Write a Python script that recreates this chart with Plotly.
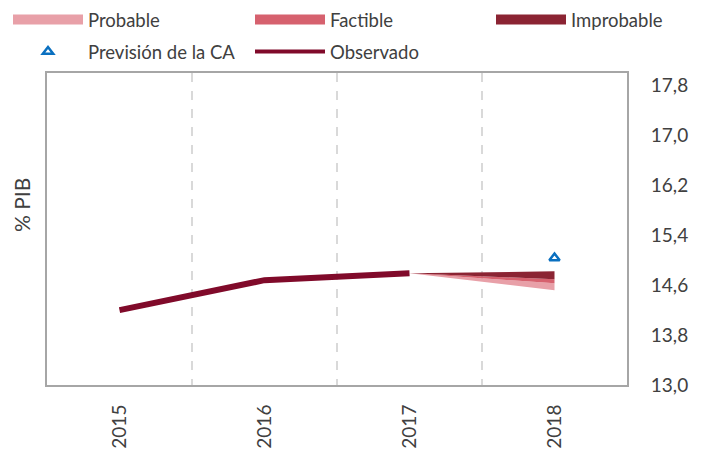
import plotly.graph_objects as go

years = [2015, 2016, 2017, 2018]
obs_years = [2015, 2016, 2017]
observado = [14.20, 14.68, 14.79]
fan_years = [2017, 2018]
fan_lower = [14.79, 14.52]
probable_top = [14.79, 14.63]
factible_top = [14.79, 14.694]
improbable_top = [14.79, 14.822]
prevision_year = [2018]
prevision = [15.035]
y_ticks = [13.0, 13.8, 14.6, 15.4, 16.2, 17.0, 17.8]

c_prob = "#E8A0A8"
c_fact = "#D6616E"
c_impr = "#8B2433"
c_obs = "#800A2A"
c_prev = "#0A70C0"
txt = "#404040"
font = "Lato"

fig = go.Figure()
# fan bands
fig.add_trace(go.Scatter(x=fan_years, y=fan_lower, mode="lines", line=dict(width=0, color=c_prob),
                         showlegend=False, hoverinfo="skip"))
fig.add_trace(go.Scatter(x=fan_years, y=probable_top, mode="lines", line=dict(width=0, color=c_prob),
                         fill="tonexty", fillcolor=c_prob, showlegend=False))
fig.add_trace(go.Scatter(x=fan_years, y=factible_top, mode="lines", line=dict(width=0, color=c_fact),
                         fill="tonexty", fillcolor=c_fact, showlegend=False))
fig.add_trace(go.Scatter(x=fan_years, y=improbable_top, mode="lines", line=dict(width=0, color=c_impr),
                         fill="tonexty", fillcolor=c_impr, showlegend=False))
# observed
fig.add_trace(go.Scatter(x=obs_years, y=observado, mode="lines", line=dict(width=6, color=c_obs),
                         showlegend=False))
# forecast
fig.add_trace(go.Scatter(x=prevision_year, y=prevision, mode="markers",
                         marker=dict(symbol="triangle-up-open", size=9, color=c_prev, line=dict(width=2.5, color=c_prev)),
                         showlegend=False))

# legend entries, each in its own legend box
leg_defs = [
    ("Probable", dict(mode="lines", line=dict(width=10, color=c_prob)), 8, 20),
    ("Factible", dict(mode="lines", line=dict(width=10, color=c_fact)), 250, 20),
    ("Improbable", dict(mode="lines", line=dict(width=10, color=c_impr)), 491, 20),
    ("Previsión de la CA", dict(mode="markers", marker=dict(symbol="triangle-up-open", size=9, color=c_prev,
                                                             line=dict(width=2.5, color=c_prev))), 8, 52),
    ("Observado", dict(mode="lines", line=dict(width=4, color=c_obs)), 250, 52),
]
legend_layouts = {}
for i, (name, style, lx, ly) in enumerate(leg_defs):
    key = "legend" if i == 0 else f"legend{i + 1}"
    fig.add_trace(go.Scatter(x=[None], y=[None], name=name, legend=key, **style))
    legend_layouts[key] = dict(orientation="h", xref="container", yref="container",
                               x=lx / 702, xanchor="left", y=1 - ly / 450, yanchor="middle",
                               itemwidth=70, font=dict(family=font, size=18.5, color=txt),
                               bgcolor="rgba(0,0,0,0)", itemclick=False, itemdoubleclick=False)

fig.update_layout(
    width=702, height=450,
    margin=dict(l=47, r=75, t=73, b=65, autoexpand=False),
    paper_bgcolor="white", plot_bgcolor="white",
    separators=", ",
    font=dict(family=font, color=txt),
    xaxis=dict(range=[2014.5, 2018.5], tickvals=years, ticktext=[str(y) for y in years],
               tickangle=-90, tickfont=dict(family=font, size=19, color=txt),
               showgrid=False, zeroline=False, showline=True, linecolor="#A6A6A6", linewidth=2,
               mirror=True, ticks="", ticklabelstandoff=10, automargin=False,
               minor=dict(tickvals=[2015.5, 2016.5, 2017.5], showgrid=True, gridcolor="#D9D9D9",
                          gridwidth=2, griddash="dash", ticks="")),
    yaxis=dict(range=[13, 18], tickvals=y_ticks, tickformat=".1f", side="right",
               tickfont=dict(family=font, size=19, color=txt),
               showgrid=False, zeroline=False, showline=True, linecolor="#A6A6A6", linewidth=2,
               mirror=True, ticks="", ticklabelstandoff=18, automargin=False),
    **legend_layouts,
)
fig.add_annotation(text="% PIB", xref="paper", yref="paper", x=-0.043, y=0.577, textangle=-90,
                   showarrow=False, font=dict(family=font, size=21, color=txt), xanchor="center", yanchor="middle")

fig.write_html("out.html", config={"displayModeBar": False},
               post_script="document.body.style.margin='0';")
